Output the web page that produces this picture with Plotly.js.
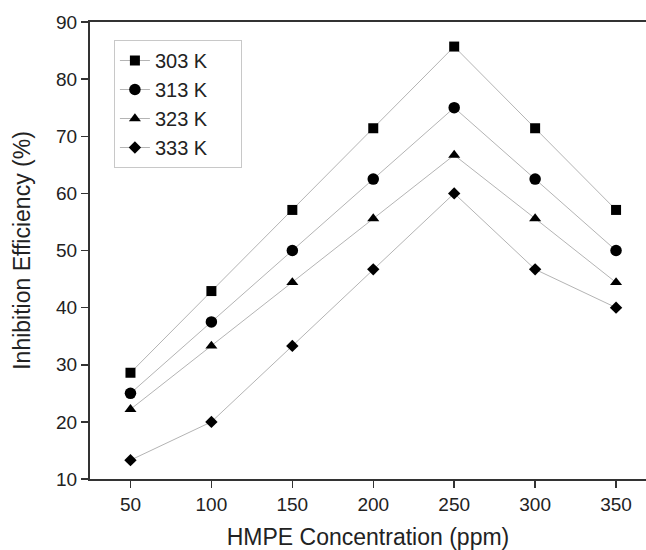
<!DOCTYPE html>
<html>
<head>
<meta charset="utf-8">
<script src="https://cdn.plot.ly/plotly-3.0.1.min.js"></script>
<style>html,body{margin:0;padding:0;background:#fff;}</style>
</head>
<body>
<div id="chart" style="width:646px;height:550px;"></div>
<script>
var concentrations = [50, 100, 150, 200, 250, 300, 350];
var ie303 = [28.6, 42.9, 57.1, 71.4, 85.7, 71.4, 57.1];
var ie313 = [25.0, 37.5, 50.0, 62.5, 75.0, 62.5, 50.0];
var ie323 = [22.2, 33.3, 44.4, 55.6, 66.7, 55.6, 44.4];
var ie333 = [13.3, 20.0, 33.3, 46.7, 60.0, 46.7, 40.0];
var seriesNames = ['303 K', '313 K', '323 K', '333 K'];
var xTickVals = [50, 100, 150, 200, 250, 300, 350];
var yTickVals = [10, 20, 30, 40, 50, 60, 70, 80, 90];

var seriesData = [ie303, ie313, ie323, ie333];
var symbols = ['square', 'circle', 'triangle-up', 'diamond'];
var sizes = [10, 11.5, 10.5, 9.5];
var pad = '\u00a0\u00a0\u00a0\u00a0\u00a0';

var traces = seriesData.map(function (ys, i) {
  return {
    x: concentrations,
    y: ys,
    name: seriesNames[i] + pad,
    type: 'scatter',
    mode: 'lines+markers',
    line: {color: '#b4b4b4', width: 1},
    marker: {symbol: symbols[i], size: sizes[i], color: '#000'}
  };
});

var layout = {
  width: 646,
  height: 550,
  margin: {l: 90, r: 0, t: 22, b: 71},
  paper_bgcolor: '#fff',
  plot_bgcolor: '#fff',
  font: {family: 'Liberation Sans, Arial, sans-serif', color: '#222'},
  showlegend: true,
  legend: {
    x: 0.043, y: 0.9606, xanchor: 'left', yanchor: 'top',
    bordercolor: '#c8c8c8', borderwidth: 1, bgcolor: '#fff',
    font: {size: 20, color: '#222'},
    tracegroupgap: 0
  },
  xaxis: {
    range: [25, 368.5],
    tickvals: xTickVals,
    ticks: 'outside', ticklen: 7, tickwidth: 1.5, tickcolor: '#333',
    showline: true, linecolor: '#333', linewidth: 2, mirror: true,
    showgrid: false, zeroline: false,
    tickfont: {size: 19, color: '#222'},
    title: {text: 'HMPE Concentration (ppm)', font: {size: 23, color: '#222'}, standoff: 15}
  },
  yaxis: {
    range: [10, 90],
    tickvals: yTickVals,
    ticks: 'outside', ticklen: 7, tickwidth: 1.5, tickcolor: '#333',
    showline: true, linecolor: '#333', linewidth: 2, mirror: false,
    showgrid: false, zeroline: false,
    tickfont: {size: 19, color: '#222'},
    title: {text: 'Inhibition Efficiency (%)', font: {size: 23, color: '#222'}, standoff: 19}
  }
};

Plotly.newPlot('chart', traces, layout, {displayModeBar: false, staticPlot: true});
</script>
</body>
</html>
